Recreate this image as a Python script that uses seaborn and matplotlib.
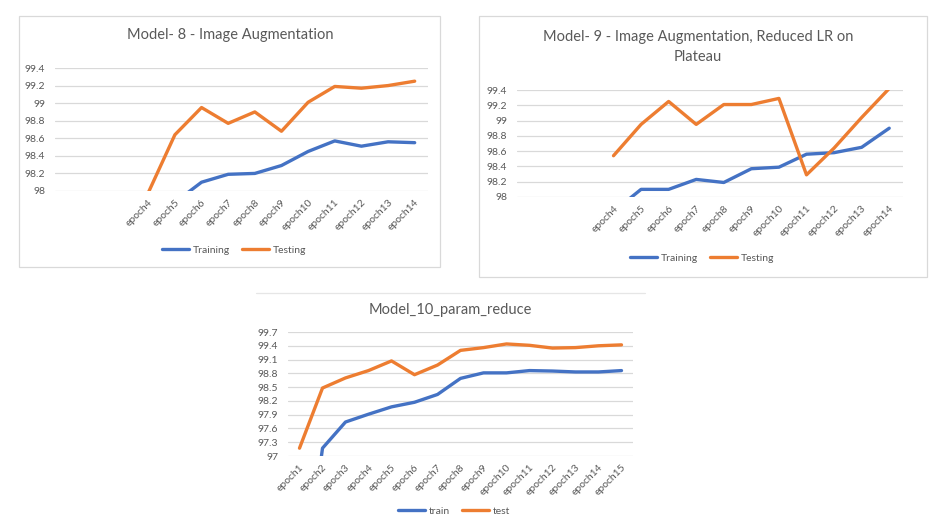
import numpy as np
import pandas as pd
import matplotlib
matplotlib.use("Agg")
import matplotlib.pyplot as plt
from matplotlib.lines import Line2D
from matplotlib.patches import Rectangle
import seaborn as sns

# ---------------- data ----------------
epochs14 = [f"epoch{i}" for i in range(1, 15)]
labels14 = ["", "", ""] + [f"epoch{i}" for i in range(4, 15)]
m8_train = [np.nan, np.nan, np.nan, np.nan, 97.87, 98.10, 98.19, 98.20, 98.29, 98.45, 98.57, 98.51, 98.56, 98.55]
m8_test = [np.nan, np.nan, np.nan, 97.98, 98.64, 98.95, 98.77, 98.90, 98.68, 99.01, 99.19, 99.17, 99.20, 99.25]

m9_train = [np.nan, np.nan, np.nan, 97.81, 98.10, 98.10, 98.23, 98.19, 98.37, 98.39, 98.56, 98.58, 98.65, 98.90]
m9_test = [np.nan, np.nan, np.nan, 98.54, 98.95, 99.25, 98.95, 99.21, 99.21, 99.29, 98.29, 98.64, 99.04, 99.42]

epochs15 = [f"epoch{i}" for i in range(1, 16)]
m10_train = [93.40, 97.17, 97.74, 97.91, 98.07, 98.17, 98.34, 98.69, 98.81, 98.81, 98.86, 98.85, 98.83, 98.83, 98.86]
m10_test = [97.17, 98.48, 98.70, 98.86, 99.07, 98.77, 98.98, 99.30, 99.36, 99.44, 99.41, 99.35, 99.36, 99.40, 99.42]

titles = ["Model- 8 - Image Augmentation",
          "Model- 9 - Image Augmentation, Reduced LR on\nPlateau",
          "Model_10_param_reduce"]

# ---------------- style ----------------
sns.set_theme(style="white")
plt.rcParams["font.family"] = ["Lato", "DejaVu Sans"]
BLUE = "#4472C4"
ORANGE = "#ED7D31"
TXT = "#595959"
GRID = "#D9D9D9"

W, H = 936, 532
fig = plt.figure(figsize=(W / 100, H / 100), dpi=100)
fig.patch.set_facecolor("white")


def rect(l, t, r, b):
    return [l / W, 1 - b / H, (r - l) / W, (b - t) / H]


def fx(x):
    return x / W


def fy(y):
    return 1 - y / H


def panel(box, x_labels, tr, te, names, ylim, yticks, ytick_labels, legend_xy):
    ax = fig.add_axes(rect(*box))
    x = np.arange(len(x_labels))
    df = pd.DataFrame({"x": np.concatenate([x, x]),
                       "acc": np.concatenate([tr, te]),
                       "series": [names[0]] * len(x) + [names[1]] * len(x)})
    sns.lineplot(data=df, x="x", y="acc", hue="series",
                 palette=[BLUE, ORANGE], linewidth=2.4, ax=ax, legend=False)
    ax.set_xlim(-0.5, len(x_labels) - 0.5)
    ax.set_ylim(*ylim)
    ax.set_yticks(yticks)
    ax.set_yticklabels(ytick_labels, color=TXT, fontsize=7.5)
    ax.set_xticks(x)
    ax.set_xticklabels(x_labels, rotation=45, ha="right", rotation_mode="anchor",
                       color=TXT, fontsize=7.5)
    ax.tick_params(axis="x", length=0, pad=5)
    ax.tick_params(axis="y", length=0, pad=7)
    ax.set_xlabel("")
    ax.set_ylabel("")
    for s in ax.spines.values():
        s.set_visible(False)
    ax.grid(axis="y", color=GRID, linewidth=0.9)
    ax.grid(axis="x", visible=False)
    ax.set_axisbelow(True)
    handles = [Line2D([], [], color=BLUE, lw=2.4), Line2D([], [], color=ORANGE, lw=2.4)]
    fig.legend(handles, names, loc="center", bbox_to_anchor=(fx(legend_xy[0]), fy(legend_xy[1])),
               ncol=2, frameon=False, fontsize=7.5, labelcolor=TXT,
               handlelength=2.6, handletextpad=0.3, columnspacing=1.2)
    return ax


def fmt(vals):
    out = []
    for v in vals:
        s = f"{v:.1f}"
        if s.endswith(".0"):
            s = s[:-2]
        out.append(s)
    return out


# panel borders
fig.add_artist(Rectangle((fx(19), fy(267)), fx(440) - fx(19), fy(16) - fy(267),
                         transform=fig.transFigure, fill=False, edgecolor=GRID, lw=0.9))
fig.add_artist(Rectangle((fx(479), fy(277)), fx(927) - fx(479), fy(16) - fy(277),
                         transform=fig.transFigure, fill=False, edgecolor=GRID, lw=0.9))
fig.add_artist(Line2D([fx(256), fx(645)], [fy(293), fy(293)], transform=fig.transFigure,
                      color="#E6E6E6", lw=0.9))

# panel 1
yt1 = np.round(np.arange(98, 99.41, 0.2), 1)
panel((55, 68, 428, 191), labels14, m8_train, m8_test, ["Training", "Testing"],
      (98, 99.4), yt1, fmt(yt1), (234, 250))
fig.text(fx(230), fy(35), titles[0], ha="center", va="center", fontsize=10.5, color=TXT)

# panel 2
panel((517, 90, 903, 197), labels14, m9_train, m9_test, ["Training", "Testing"],
      (98, 99.4), yt1, fmt(yt1), (702, 258))
fig.text(fx(698), fy(47), titles[1], ha="center", va="center", fontsize=10.5, color=TXT,
         linespacing=1.6)

# panel 3
yt3 = np.round(np.arange(97, 99.71, 0.3), 1)
panel((288, 332, 633, 456), epochs15, m10_train, m10_test, ["train", "test"],
      (97, 99.7), yt3, fmt(yt3), (454, 511))
fig.text(fx(450), fy(310), titles[2], ha="center", va="center", fontsize=10.5, color=TXT)

fig.savefig("out.png", dpi=100, facecolor="white")
